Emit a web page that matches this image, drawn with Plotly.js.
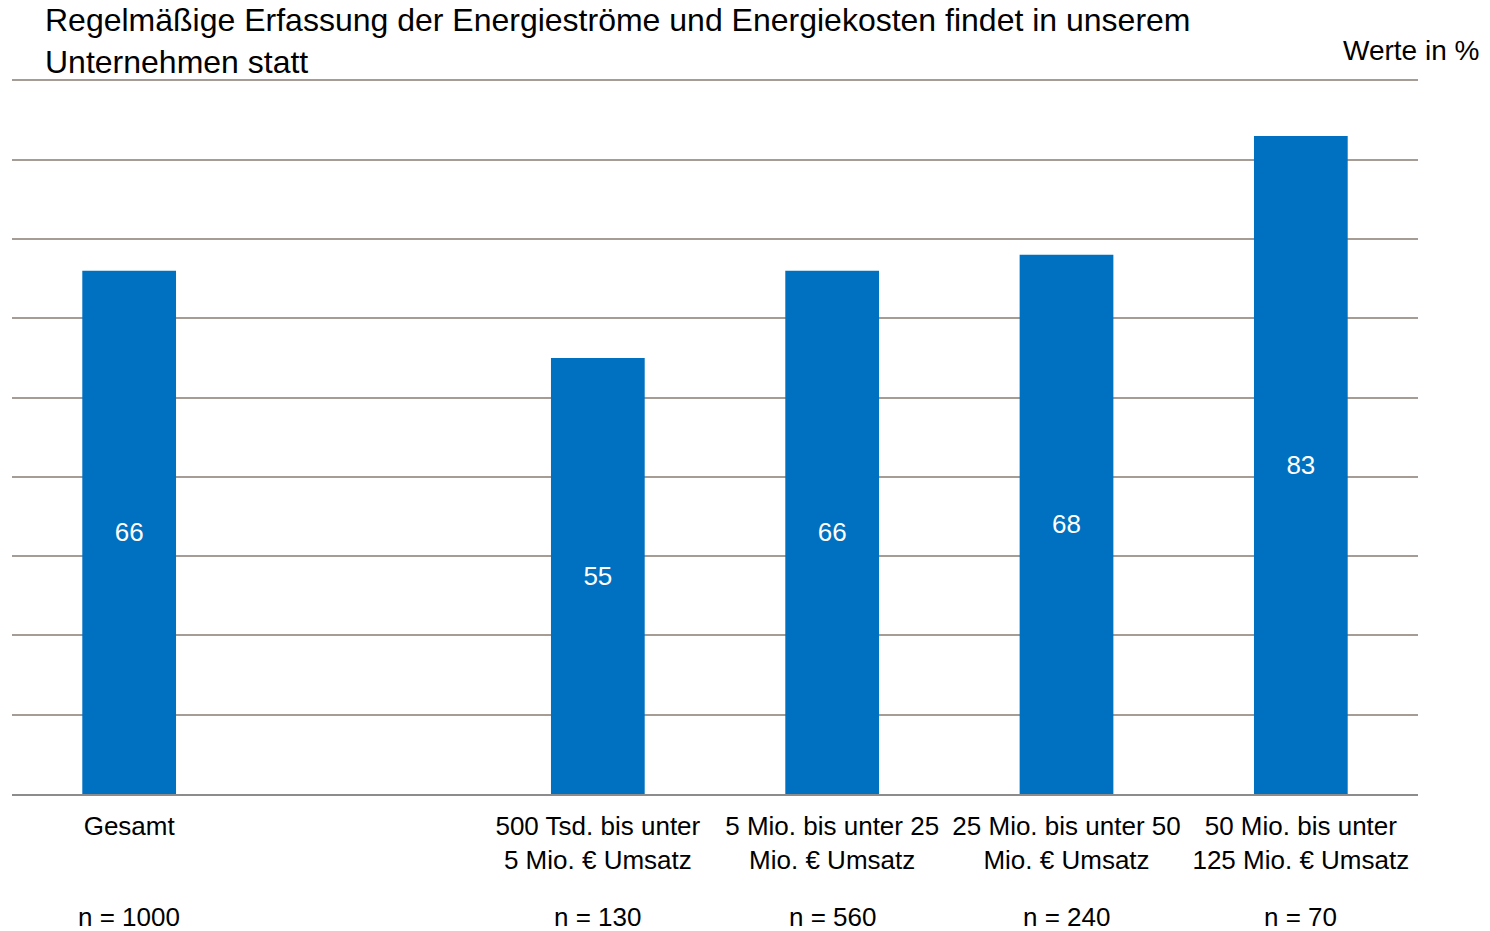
<!DOCTYPE html>
<html>
<head>
<meta charset="utf-8">
<script src="https://cdn.plot.ly/plotly-3.0.1.min.js"></script>
<style>
  body { margin: 0; background: #ffffff; }
  #chart { width: 1490px; height: 931px; }
</style>
</head>
<body>
<div id="chart"></div>
<script>
const categories = [
    'Gesamt',
    ' ',
    '500 Tsd. bis unter<br>5 Mio. € Umsatz',
    '5 Mio. bis unter 25<br>Mio. € Umsatz',
    '25 Mio. bis unter 50<br>Mio. € Umsatz',
    '50 Mio. bis unter<br>125 Mio. € Umsatz'
];
const values = [66, null, 55, 66, 68, 83];
const sampleSizes = ['n = 1000', '', 'n = 130', 'n = 560', 'n = 240', 'n = 70'];

const fontFamily = 'Liberation Sans, Arial, sans-serif';

// plot area in pixels: x 12..1418, y 78..794
const plotLeft = 12, plotRight = 1418, plotTop = 78, plotBottom = 794;
const py = px => (plotBottom - px) / (plotBottom - plotTop);
const pxX = px => (px - plotLeft) / (plotRight - plotLeft);

const trace = {
    x: categories,
    y: values,
    type: 'bar',
    width: 0.4,
    marker: { color: '#0070C0' },
    text: values.map(v => (v === null ? '' : String(v))),
    textposition: 'inside',
    insidetextanchor: 'middle',
    textangle: 0,
    textfont: { color: '#ffffff', size: 26, family: fontFamily },
    hoverinfo: 'x+y'
};

// sample size labels under each category
const nAnnotations = categories.map((c, i) => ({
    text: sampleSizes[i],
    xref: 'x',
    yref: 'paper',
    x: c,
    y: py(917),
    yanchor: 'middle',
    showarrow: false,
    font: { size: 26, color: '#000000', family: fontFamily }
})).filter(a => a.text !== '');

const layout = {
    width: 1490,
    height: 931,
    margin: { l: plotLeft, r: 1490 - plotRight, t: plotTop, b: 931 - plotBottom },
    paper_bgcolor: '#ffffff',
    plot_bgcolor: '#ffffff',
    font: { family: fontFamily, color: '#000000', size: 26 },
    showlegend: false,
    xaxis: {
        type: 'category',
        categoryorder: 'array',
        categoryarray: categories,
        showline: true,
        linecolor: '#8c8c8c',
        linewidth: 2,
        ticks: '',
        ticklabelstandoff: 8,
        showgrid: false,
        tickfont: { size: 26, color: '#000000' },
        fixedrange: true
    },
    yaxis: {
        range: [0, 90.3],
        tick0: 0,
        dtick: 10,
        showticklabels: false,
        showgrid: true,
        gridcolor: '#a59c96',
        gridwidth: 2,
        zeroline: false,
        ticks: '',
        fixedrange: true
    },
    annotations: [
        {
            text: 'Regelmäßige Erfassung der Energieströme und Energiekosten findet in unserem<br>Unternehmen statt',
            xref: 'paper',
            yref: 'paper',
            x: pxX(43),
            xanchor: 'left',
            y: py(41),
            yanchor: 'middle',
            align: 'left',
            showarrow: false,
            font: { size: 32, color: '#000000', family: fontFamily }
        },
        {
            text: 'Werte in %',
            xref: 'paper',
            yref: 'paper',
            x: pxX(1481),
            xanchor: 'right',
            y: py(50),
            yanchor: 'middle',
            showarrow: false,
            font: { size: 28, color: '#000000', family: fontFamily }
        }
    ].concat(nAnnotations)
};

Plotly.newPlot('chart', [trace], layout, { displayModeBar: false, staticPlot: true });
</script>
</body>
</html>
